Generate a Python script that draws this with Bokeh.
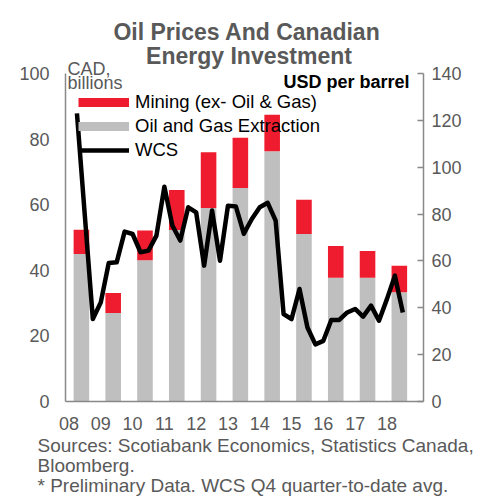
from bokeh.plotting import figure
from bokeh.models import (Range1d, LinearAxis, FixedTicker, Label, Legend,
                          LegendItem, ColumnDataSource)
from bokeh.embed import file_html
from bokeh.resources import INLINE

# ---------------- data ----------------
years = [2008, 2009, 2010, 2011, 2012, 2013, 2014, 2015, 2016, 2017, 2018]
year_labels = ["08", "09", "10", "11", "12", "13", "14", "15", "16", "17", "18"]
# CAD billions
oil_gas = [45.0, 27.0, 43.1, 52.3, 59.0, 65.1, 76.3, 51.1, 37.7, 37.7, 33.3]
mining = [7.4, 6.1, 9.0, 12.2, 17.0, 15.3, 11.1, 10.4, 9.7, 8.2, 8.1]
# WCS, USD per barrel, quarterly (first observation 2008 Q2 ... 2018 Q4 QTD)
wcs = [123.0, 79.0, 35.2, 42.3, 59.1, 59.4, 72.5, 71.5, 63.7, 64.4,
       70.8, 91.7, 75.1, 68.7, 82.9, 80.7, 58.0, 81.5, 60.1, 83.6,
       83.2, 71.6, 77.9, 82.9, 84.8, 77.2, 37.3, 35.2, 48.0, 31.6,
       24.4, 25.9, 34.8, 34.8, 38.0, 39.5, 36.2, 40.9, 34.5, 43.7,
       53.7, 38.0]
wcs_first_quarter = 2008.25

left_ticks = [0, 20, 40, 60, 80, 100]
right_ticks = [0, 20, 40, 60, 80, 100, 120, 140]

FONT = "Liberation Sans"
GREY_TXT = "#595959"
AXIS_CLR = "#898989"
RED = "#EE1C2E"
BAR_GREY = "#BFBFBF"

# ---------------- geometry ----------------
W, H = 483, 497
X_LO, X_HI = 2007.89, 2019.15          # plotted time span (axis extent)
PX_LEFT, PX_RIGHT = 65, 423             # axis positions on the page
PX_ZERO, PX_TOP = 401, 73               # y of 0 and of the top tick
kx = (PX_RIGHT - PX_LEFT) / (X_HI - X_LO)
ky_left = (PX_ZERO - PX_TOP) / 100.0
ky_right = (PX_ZERO - PX_TOP) / 140.0

x_range = Range1d(X_LO - PX_LEFT / kx, X_HI + (W - PX_RIGHT) / kx)
y_range = Range1d(-(H - PX_ZERO) / ky_left, PX_ZERO / ky_left)
wcs_range = Range1d(-(H - PX_ZERO) / ky_right, PX_ZERO / ky_right)

bar_offset = 0.39
bar_x = [y + bar_offset for y in years]
quarter_x = [wcs_first_quarter + 0.25 * k for k in range(len(wcs))]

p = figure(width=W, height=H, output_backend="svg", toolbar_location=None,
           x_range=x_range, y_range=y_range,
           min_border=0, min_border_left=0, min_border_right=0,
           min_border_top=0, min_border_bottom=0)
p.extra_y_ranges = {"wcs": wcs_range}
p.outline_line_color = None
p.xgrid.visible = False
p.ygrid.visible = False
p.background_fill_color = "white"
p.border_fill_color = "white"

src = ColumnDataSource(dict(x=bar_x, oil_gas=oil_gas, mining=mining))
p.vbar_stack(["oil_gas", "mining"], x="x", width=0.49, source=src,
             fill_color=[BAR_GREY, RED], line_color=None)

wcs_r = p.line(quarter_x, wcs, y_range_name="wcs", line_color="black",
               line_width=4.5, line_join="round")

# legend proxies (nothing drawn)
nan = float("nan")
red_proxy = p.line([nan], [nan], line_color=RED, line_width=9)
grey_proxy = p.line([nan], [nan], line_color=BAR_GREY, line_width=9)

legend = Legend(items=[
    LegendItem(label="Mining (ex- Oil & Gas)", renderers=[red_proxy]),
    LegendItem(label="Oil and Gas Extraction", renderers=[grey_proxy]),
    LegendItem(label="WCS", renderers=[wcs_r]),
], location=(78, 336), glyph_width=51, glyph_height=20, label_height=20,
    spacing=2, padding=0, margin=0, label_standoff=6,
    border_line_color=None, background_fill_alpha=0,
    label_text_font=FONT, label_text_font_size="18.5px",
    label_text_color="black")
p.add_layout(legend)

# left axis
ya = p.yaxis[0]
ya.fixed_location = X_LO
ya.bounds = (0, 100)
ya.ticker = FixedTicker(ticks=left_ticks)
ya.major_tick_out = 0
ya.major_tick_in = 0
ya.minor_tick_out = 0
ya.minor_tick_in = 0
ya.axis_line_color = AXIS_CLR
ya.axis_line_width = 1.5
ya.major_label_standoff = 16
ya.major_label_text_font = FONT
ya.major_label_text_font_size = "18px"
ya.major_label_text_color = GREY_TXT

# right axis
ra = LinearAxis(y_range_name="wcs", ticker=FixedTicker(ticks=right_ticks))
ra.fixed_location = X_HI
ra.bounds = (0, 140)
ra.major_tick_out = 0
ra.major_tick_in = 6
ra.major_tick_line_color = AXIS_CLR
ra.major_tick_line_width = 1.5
ra.minor_tick_out = 0
ra.minor_tick_in = 0
ra.axis_line_color = AXIS_CLR
ra.axis_line_width = 1.5
ra.major_label_standoff = 8
ra.major_label_text_font = FONT
ra.major_label_text_font_size = "18px"
ra.major_label_text_color = GREY_TXT
p.add_layout(ra, "right")

# bottom axis
xa = p.xaxis[0]
xa.fixed_location = 0
xa.bounds = (X_LO, X_HI)
xa.ticker = FixedTicker(ticks=years)
xa.major_label_overrides = {y: lab for y, lab in zip(years, year_labels)}
xa.major_tick_out = 0
xa.major_tick_in = 0
xa.minor_tick_out = 0
xa.minor_tick_in = 0
xa.axis_line_color = AXIS_CLR
xa.axis_line_width = 1.5
xa.major_label_standoff = 15
xa.major_label_text_font = FONT
xa.major_label_text_font_size = "18px"
xa.major_label_text_color = GREY_TXT


def add_text(text, x, y, size, color, align="left", bold=False):
    # x, y in page pixels (from top-left); converted to screen units
    p.add_layout(Label(text=text, x=x, y=H - y, x_units="screen", y_units="screen",
                       text_font=FONT, text_font_size=size, text_color=color,
                       text_align=align, text_baseline="alphabetic",
                       text_font_style="bold" if bold else "normal"))


add_text("Oil Prices And Canadian", 246.5, 31.5, "23px", GREY_TXT, "center", True)
add_text("Energy Investment", 248.5, 55, "23px", GREY_TXT, "center", True)
add_text("CAD,", 67, 68, "18px", GREY_TXT)
add_text("billions", 67, 82.5, "18px", GREY_TXT)
add_text("USD per barrel", 409, 81, "18px", "black", "right", True)
add_text("Sources: Scotiabank Economics, Statistics Canada,", 37, 445, "19px", GREY_TXT)
add_text("Bloomberg.", 37, 465, "19px", GREY_TXT)
add_text("* Preliminary Data. WCS Q4 quarter-to-date avg.", 37, 485, "19px", GREY_TXT)

open("out.html", "w").write(file_html(p, INLINE))
